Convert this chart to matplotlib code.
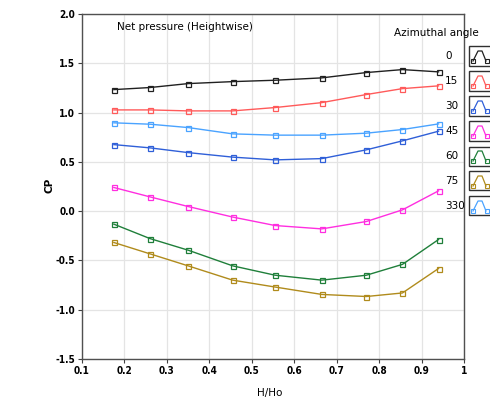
import matplotlib
matplotlib.use("Agg")
import matplotlib.pyplot as plt
from matplotlib.patches import Rectangle
from matplotlib.lines import Line2D

# Data
h_ratio = [0.175, 0.26, 0.35, 0.455, 0.555, 0.665, 0.77, 0.855, 0.94]
angles = ["0", "15", "30", "45", "60", "75", "330"]
cp_0 = [1.233, 1.254, 1.294, 1.314, 1.328, 1.352, 1.406, 1.436, 1.413]
cp_15 = [1.027, 1.027, 1.017, 1.017, 1.051, 1.101, 1.183, 1.243, 1.271]
cp_30 = [0.675, 0.642, 0.594, 0.548, 0.52, 0.533, 0.622, 0.713, 0.811]
cp_45 = [0.24, 0.145, 0.047, -0.06, -0.146, -0.18, -0.105, 0.013, 0.206]
cp_60 = [-0.132, -0.278, -0.396, -0.555, -0.65, -0.70, -0.65, -0.54, -0.288]
cp_75 = [-0.318, -0.433, -0.555, -0.70, -0.77, -0.845, -0.866, -0.83, -0.582]
cp_330 = [0.896, 0.882, 0.848, 0.784, 0.771, 0.771, 0.791, 0.828, 0.885]
series = [cp_0, cp_15, cp_30, cp_45, cp_60, cp_75, cp_330]
colors = ["#202020", "#ff5a5a", "#2f5fd8", "#ff2ee0", "#1f7f3a", "#b08b1c", "#4aa3ff"]

W, H = 490, 409
fig = plt.figure(figsize=(W / 100, H / 100), dpi=100)
fig.patch.set_facecolor("white")

x0, x1, ytop, ybot = 82, 464, 14, 359
ax = fig.add_axes([x0 / W, (H - ybot) / H, (x1 - x0) / W, (ybot - ytop) / H])

for ys, c in zip(series, colors):
    ax.plot(h_ratio, ys, color=c, lw=1.0, marker="s", ms=3.6, mfc="none", mec=c, mew=0.9)

ax.set_xlim(0.1, 1.0)
ax.set_ylim(-1.5, 2.0)
ax.set_xticks([0.1, 0.2, 0.3, 0.4, 0.5, 0.6, 0.7, 0.8, 0.9, 1.0])
ax.set_xticklabels(["0.1", "0.2", "0.3", "0.4", "0.5", "0.6", "0.7", "0.8", "0.9", "1"])
ax.set_yticks([-1.5, -1.0, -0.5, 0.0, 0.5, 1.0, 1.5, 2.0])
ax.set_yticklabels(["-1.5", "-1.0", "-0.5", "0.0", "0.5", "1.0", "1.5", "2.0"])
ax.grid(True, color="#e4e4e4", lw=0.9)
ax.set_axisbelow(True)
for s in ax.spines.values():
    s.set_color("#505050")
    s.set_linewidth(1.0)
ax.tick_params(direction="out", length=3, width=0.8, color="#404040",
               labelsize=7.2, pad=2)
for lab in ax.get_xticklabels() + ax.get_yticklabels():
    lab.set_fontweight("bold")
    lab.set_fontstretch("condensed")

fig.text(270 / W, 1 - 393 / H, "H/Ho", ha="center", va="center", fontsize=7.5)
fig.text(49 / W, 1 - 185 / H, "CP", ha="center", va="center", fontsize=7.5,
         rotation=90, fontweight="bold")
fig.text(117 / W, 1 - 27 / H, "Net pressure (Heightwise)", ha="left", va="center",
         fontsize=7.5)
fig.text(436 / W, 1 - 33 / H, "Azimuthal angle", ha="center", va="center", fontsize=7.5)

# Legend (LabVIEW-style)
for i, (name, c) in enumerate(zip(angles, colors)):
    yc = 56 + 25 * i
    fig.text(445 / W, 1 - yc / H, name, ha="left", va="center", fontsize=7.5)
    bx, by, bw, bh = 469, yc - 9.5, 25, 19
    fig.patches.append(Rectangle((bx / W, 1 - (by + bh) / H), bw / W, bh / H,
                                 transform=fig.transFigure, fill=False,
                                 ec="#303030", lw=1.0))
    px = [473, 478, 482, 486]
    py = [yc + 5, yc - 5, yc - 5, yc + 5]
    fig.add_artist(Line2D([p / W for p in px], [1 - p / H for p in py],
                          transform=fig.transFigure, color=c, lw=0.9))
    fig.add_artist(Line2D([473 / W, 487 / W], [1 - (yc + 5) / H, 1 - (yc + 5) / H],
                          transform=fig.transFigure, color=c, lw=0, marker="s",
                          ms=3, mfc="none", mec=c, mew=0.8))

fig.savefig("out.png", dpi=100)
